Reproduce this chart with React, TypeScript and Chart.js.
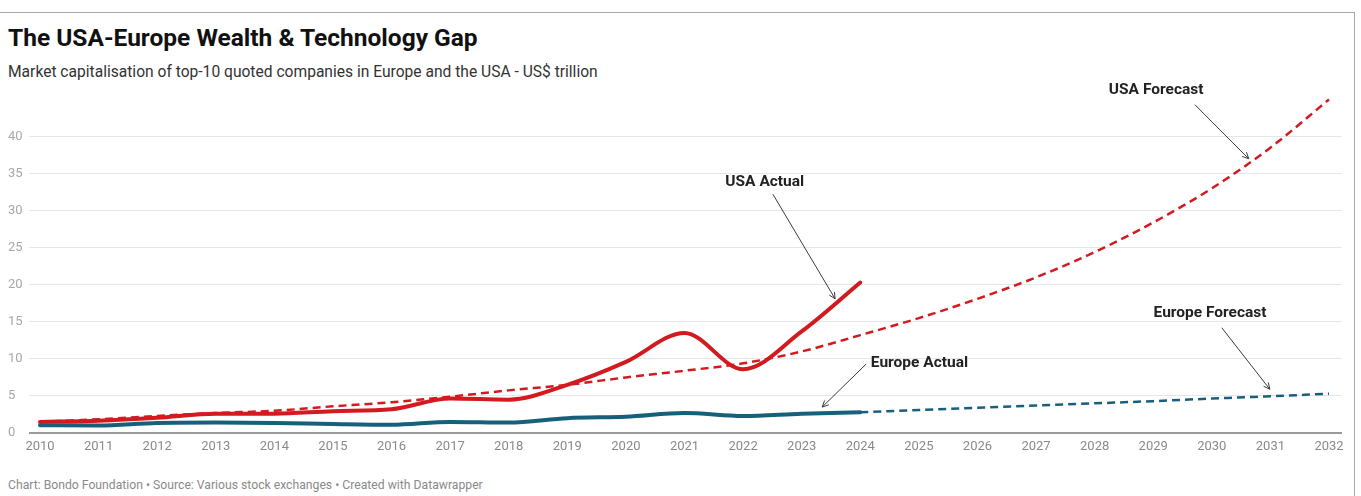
import React, { useEffect, useRef } from "react";
import { Chart, registerables } from "chart.js";

Chart.register(...registerables);

// ---------- data ----------
const actualYears = [2010, 2011, 2012, 2013, 2014, 2015, 2016, 2017, 2018, 2019, 2020, 2021, 2022, 2023, 2024];
const usaActual = [1.5, 1.65, 2.05, 2.6, 2.6, 2.95, 3.2, 4.65, 4.5, 6.5, 9.6, 13.5, 8.6, 13.7, 20.3];
const europeActual = [1.05, 1.0, 1.35, 1.4, 1.35, 1.2, 1.1, 1.5, 1.4, 2.0, 2.2, 2.7, 2.3, 2.6, 2.8];

const usaForecastYears = [2010, 2011, 2012, 2013, 2014, 2015, 2016, 2017, 2018, 2019, 2020, 2021, 2022, 2023, 2024, 2025, 2026, 2027, 2028, 2029, 2030, 2031, 2032];
const usaForecast = [1.5, 1.85, 2.3, 2.7, 3.0, 3.6, 4.15, 4.9, 5.75, 6.5, 7.5, 8.4, 9.4, 11.0, 13.2, 15.5, 18.1, 21.0, 24.4, 28.4, 33.0, 38.5, 45.0];

const europeForecastYears = [2024, 2025, 2026, 2027, 2028, 2029, 2030, 2031, 2032];
const europeForecast = [2.8, 3.1, 3.4, 3.7, 4.0, 4.3, 4.65, 4.95, 5.3];

const xTickYears = [2010, 2011, 2012, 2013, 2014, 2015, 2016, 2017, 2018, 2019, 2020, 2021, 2022, 2023, 2024, 2025, 2026, 2027, 2028, 2029, 2030, 2031, 2032];
const yTickValues = [0, 5, 10, 15, 20, 25, 30, 35, 40];

// annotation labels, anchored in data space (year, value)
const annotationTexts = ["USA Actual", "Europe Actual", "USA Forecast", "Europe Forecast"];
const annotationAnchors = [
  { tx: 2022.37, ty: 33.9, align: "center", from: [2022.51, 32.2], to: [2023.57, 18.1] },
  { tx: 2024.18, ty: 9.4, align: "left", from: [2024.1, 9.3], to: [2023.35, 3.5] },
  { tx: 2029.05, ty: 46.2, align: "center", from: [2029.71, 44.3], to: [2030.63, 37.0] },
  { tx: 2029.97, ty: 16.2, align: "center", from: [2030.17, 14.2], to: [2030.99, 5.9] },
];

const RED = "#d21a1f";
const BLUE = "#17607b";
const FONT = "Roboto, 'Noto Sans', sans-serif";

const toXY = (xs: number[], ys: number[]) => xs.map((x, i) => ({ x, y: ys[i] }));

const annotationPlugin = {
  id: "annotations",
  afterDatasetsDraw(chart: any) {
    const { ctx, scales } = chart;
    const xs = scales.x;
    const ys = scales.y;
    ctx.save();
    ctx.font = `bold 15.5px ${FONT}`;
    ctx.fillStyle = "#222";
    ctx.textBaseline = "middle";
    annotationAnchors.forEach((a, i) => {
      ctx.textAlign = a.align;
      ctx.fillText(annotationTexts[i], xs.getPixelForValue(a.tx), ys.getPixelForValue(a.ty));
      const x1 = xs.getPixelForValue(a.from[0]);
      const y1 = ys.getPixelForValue(a.from[1]);
      const x2 = xs.getPixelForValue(a.to[0]);
      const y2 = ys.getPixelForValue(a.to[1]);
      ctx.strokeStyle = "#3a3a3a";
      ctx.lineWidth = 1;
      ctx.beginPath();
      ctx.moveTo(x1, y1);
      ctx.lineTo(x2, y2);
      const ang = Math.atan2(y2 - y1, x2 - x1);
      const h = 7;
      ctx.moveTo(x2 - h * Math.cos(ang - 0.45), y2 - h * Math.sin(ang - 0.45));
      ctx.lineTo(x2, y2);
      ctx.lineTo(x2 - h * Math.cos(ang + 0.45), y2 - h * Math.sin(ang + 0.45));
      ctx.stroke();
    });
    ctx.restore();
  },
};

export default function App() {
  const canvasRef = useRef<HTMLCanvasElement | null>(null);

  useEffect(() => {
    if (!canvasRef.current) return;
    const pxPerYear = (1329 - 40) / 22;
    const xMin = 2010 - (40 - 29) / pxPerYear;
    const xMax = xMin + (1342 - 29) / pxPerYear;
    const chart = new Chart(canvasRef.current, {
      type: "line",
      data: {
        datasets: [
          {
            label: "USA Actual",
            data: toXY(actualYears, usaActual),
            borderColor: RED,
            borderWidth: 4,
            pointRadius: 0,
            cubicInterpolationMode: "monotone",
            borderCapStyle: "round",
            order: 1,
          },
          {
            label: "Europe Actual",
            data: toXY(actualYears, europeActual),
            borderColor: BLUE,
            borderWidth: 4,
            pointRadius: 0,
            cubicInterpolationMode: "monotone",
            borderCapStyle: "round",
            order: 2,
          },
          {
            label: "USA Forecast",
            data: toXY(usaForecastYears, usaForecast),
            borderColor: RED,
            borderWidth: 2.5,
            borderDash: [8, 5],
            pointRadius: 0,
            cubicInterpolationMode: "monotone",
            order: 3,
          },
          {
            label: "Europe Forecast",
            data: toXY(europeForecastYears, europeForecast),
            borderColor: BLUE,
            borderWidth: 2.5,
            borderDash: [8, 5],
            pointRadius: 0,
            cubicInterpolationMode: "monotone",
            order: 4,
          },
        ],
      },
      options: {
        animation: false,
        responsive: false,
        maintainAspectRatio: false,
        layout: { padding: { left: 0, right: 11, top: 0, bottom: 0 } },
        plugins: { legend: { display: false }, tooltip: { enabled: false }, title: { display: false } },
        scales: {
          x: {
            type: "linear",
            min: xMin,
            max: xMax,
            afterBuildTicks: (s: any) => {
              s.ticks = xTickYears.map((v) => ({ value: v }));
            },
            afterFit: (s: any) => {
              s.height = 30;
            },
            grid: { display: false, drawTicks: false, tickLength: 0 },
            border: { display: false },
            ticks: {
              autoSkip: false,
              maxRotation: 0,
              padding: 6,
              color: "#8a8a8a",
              font: { family: FONT, size: 13 },
              callback: (v: any) => String(v),
            },
          },
          y: {
            type: "linear",
            min: 0,
            max: 353 / 7.45,
            afterBuildTicks: (s: any) => {
              s.ticks = yTickValues.map((v) => ({ value: v }));
            },
            afterFit: (s: any) => {
              s.width = 21;
            },
            border: { display: false },
            grid: {
              drawTicks: false,
              color: (c: any) => (c.tick && c.tick.value === 0 ? "#9a9a9a" : "#e6e6e6"),
              lineWidth: (c: any) => (c.tick && c.tick.value === 0 ? 2 : 1),
            },
            ticks: {
              crossAlign: "far",
              padding: 0,
              color: "#a8a8a8",
              font: { family: FONT, size: 13 },
              callback: (v: any) => String(v),
            },
          },
        },
      },
      plugins: [annotationPlugin],
    } as any);
    return () => chart.destroy();
  }, []);

  return (
    <div
      style={{
        position: "fixed",
        left: 0,
        top: 0,
        width: 1361,
        height: 496,
        background: "#fff",
        overflow: "hidden",
        fontFamily: FONT,
      }}
    >
      <div style={{ position: "absolute", left: 0, top: 12, width: 1354, height: 484, borderTop: "1px solid #a9a9a9", borderRight: "1px solid #a9a9a9" }} />
      <div
        style={{
          position: "absolute",
          left: 8,
          top: 24,
          fontSize: 24.5,
          lineHeight: "28px",
          fontWeight: 700,
          color: "#111",
          whiteSpace: "nowrap",
        }}
      >
        The USA-Europe Wealth &amp; Technology Gap
      </div>
      <div
        style={{
          position: "absolute",
          left: 8,
          top: 63,
          fontSize: 15.6,
          lineHeight: "18px",
          color: "#333",
          whiteSpace: "nowrap",
        }}
      >
        Market capitalisation of top-10 quoted companies in Europe and the USA - US$ trillion
      </div>
      <canvas
        ref={canvasRef}
        width={1345}
        height={389}
        style={{ position: "absolute", left: 8, top: 74, width: 1345, height: 389 }}
      />
      <div
        style={{
          position: "absolute",
          left: 8,
          top: 478,
          fontSize: 12.2,
          lineHeight: "14px",
          color: "#8a8a8a",
          whiteSpace: "nowrap",
        }}
      >
        Chart: Bondo Foundation • Source: Various stock exchanges • Created with Datawrapper
      </div>
    </div>
  );
}
